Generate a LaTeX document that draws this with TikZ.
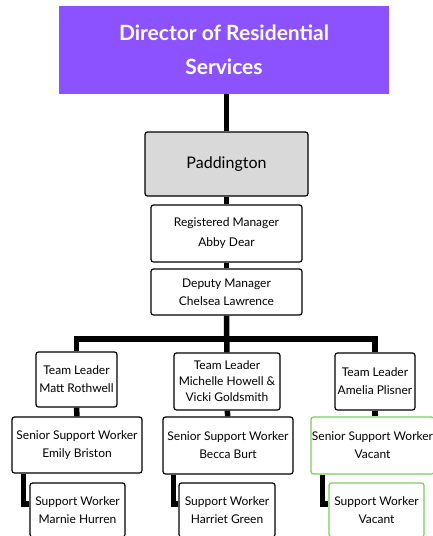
\documentclass[tikz,border=0pt]{standalone}
\usepackage{fontspec}
\setmainfont{Lato}
\usetikzlibrary{backgrounds}
\definecolor{headpurple}{HTML}{8C52FF}
\definecolor{sitegray}{HTML}{D9D9D9}
\definecolor{vacantgreen}{HTML}{7CCB5C}
\tikzset{
  staff/.style={draw=black, line width=1.2pt, rounded corners=2.5pt, fill=white,
    align=center, inner sep=0pt, font=\fontsize{12}{18}\selectfont},
  vacant/.style={staff, draw=vacantgreen},
  link/.style={line width=5.5pt, black}
}
\begin{document}
\begin{tikzpicture}[x=1pt, y=-1pt]
                \useasboundingbox (0,0) rectangle (433,536);
                % Director and site
                \node[fill=headpurple, text=white, minimum width=330pt, minimum height=88pt,
                      align=center, font=\bfseries\fontsize{21}{34}\selectfont] (dir) at (224,50)
                      {\raisebox{-3pt}{Director of Residential}\\\raisebox{-3pt}{Services}};
                \node[staff, fill=sitegray, minimum width=163pt, minimum height=64pt,
                      font=\fontsize{16}{20}\selectfont] (pad) at (226.5,164) {Paddington};
                
                % Managers
                \node[staff, minimum width=151pt, minimum height=57pt] (reg) at (226.5,233.5)
                      {Registered Manager\\[2pt]Abby Dear};
                \node[staff, minimum width=151pt, minimum height=46pt] (dep) at (226.5,292)
                      {Deputy Manager\\Chelsea Lawrence};
                
                % Team leaders
                \node[staff, minimum width=81pt, minimum height=55pt] (tl1) at (76.5,379.5)
                      {Team Leader\\Matt Rothwell};
                \node[staff, minimum width=106pt, minimum height=57pt,
                      font=\fontsize{12}{16}\selectfont] (tl2) at (227,381.5)
                      {Team Leader\\Michelle Howell \&\\Vicki Goldsmith};
                \node[staff, minimum width=80pt, minimum height=57pt] (tl3) at (375,381.5)
                      {Team Leader\\Amelia Plisner};
                
                % Senior support workers
                \node[staff, minimum width=130pt, minimum height=56pt] (sen1) at (77,445)
                      {Senior Support Worker\\Emily Briston};
                \node[staff, minimum width=130pt, minimum height=57pt] (sen2) at (228,445.5)
                      {Senior Support Worker\\Becca Burt};
                \node[vacant, minimum width=123pt, minimum height=57pt] (sen3) at (372.5,445.5)
                      {Senior Support Worker\\Vacant};
                
                % Support workers
                \node[staff, minimum width=95pt, minimum height=54pt] (sup1) at (77.5,510)
                      {Support Worker\\Marnie Hurren};
                \node[staff, minimum width=96pt, minimum height=54pt] (sup2) at (227,510)
                      {Support Worker\\Harriet Green};
                \node[vacant, minimum width=95pt, minimum height=54pt] (sup3) at (376.5,510)
                      {Support Worker\\Vacant};
                
                \coordinate (bar) at (227,339);
                
                \begin{pgfonlayer}{background}
                \draw[link] (dir.south -| pad.north) -- (pad.north);
                \draw[link] (pad) -- (reg);
                \draw[link] (reg) -- (dep);
                \draw[link] (dep) -- (tl2);
                \draw[link] (tl1.north) |- (bar) -| (tl3.north);
                \draw[link] (tl1) -- (sen1);
                \draw[link] (tl2) -- (sen2);
                \draw[link] (tl3.south) -- (tl3.south |- sen3.north);
                \draw[link] ([xshift=12pt]sen1.south west) |- ([yshift=6pt]sup1.west);
                \draw[link] ([xshift=11pt]sen2.south west) |- ([yshift=6pt]sup2.west);
                \draw[link] ([xshift=12pt]sen3.south west) |- ([yshift=6pt]sup3.west);
                \end{pgfonlayer}
\end{tikzpicture}
\end{document}
